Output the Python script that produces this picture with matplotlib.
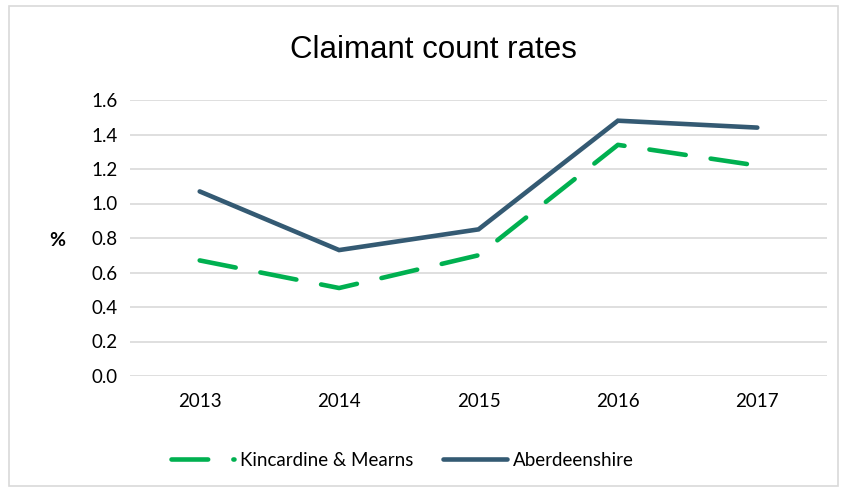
import matplotlib.pyplot as plt
from matplotlib.patches import Rectangle

# --- data ---
years = ['2013', '2014', '2015', '2016', '2017']
kincardine = [0.67, 0.51, 0.70, 1.34, 1.22]
aberdeenshire = [1.07, 0.73, 0.85, 1.48, 1.44]
yticks = [0.0, 0.2, 0.4, 0.6, 0.8, 1.0, 1.2, 1.4, 1.6]

GREEN = '#00B050'
NAVY = '#345A73'
GRID = '#D9D9D9'

fig = plt.figure(figsize=(8.46, 4.92), dpi=100)
ax = fig.add_axes([130 / 846, 1 - 376 / 492, 697 / 846, 276 / 492])

x = range(len(years))
ax.plot(x, kincardine, color=GREEN, linewidth=3.3, dashes=(8, 5.5),
        dash_capstyle='round', solid_capstyle='round', label='Kincardine & Mearns')
ax.plot(x, aberdeenshire, color=NAVY, linewidth=3.3, solid_capstyle='round',
        solid_joinstyle='miter', label='Aberdeenshire')

ax.set_xlim(-0.5, len(years) - 0.5)
ax.set_ylim(0, 1.6)
ax.set_yticks(yticks)
ax.set_yticklabels([f'{v:.1f}' for v in yticks])
ax.set_xticks(list(x))
ax.set_xticklabels(years)
ax.grid(axis='y', color=GRID, linewidth=1.2)
ax.set_axisbelow(True)
for s in ax.spines.values():
    s.set_visible(False)
ax.tick_params(length=0, labelsize=13.5, colors='#000000', pad=9)
for lab in ax.get_xticklabels() + ax.get_yticklabels():
    lab.set_fontfamily('Lato')
ax.tick_params(axis='x', pad=12)

fig.text(57 / 846, 1 - 241 / 492, '%', fontsize=14, fontweight='bold',
         family='Lato', ha='center', va='center')
fig.text(433 / 846, 1 - 50 / 492, 'Claimant count rates', fontsize=22.5,
         family='Liberation Sans', ha='center', va='center')

leg = fig.legend(loc='center', bbox_to_anchor=(402 / 846, 1 - 460 / 492), ncol=2,
                 frameon=False, prop={'family': 'Lato', 'size': 13.5},
                 handlelength=3.4, columnspacing=1.6, handletextpad=0.3)

fig.patches.append(Rectangle((9 / 846, 6 / 492), 829 / 846, 480 / 492,
                             transform=fig.transFigure, fill=False,
                             edgecolor='#D9D9D9', linewidth=1.2))

fig.savefig('out.png', dpi=100)
